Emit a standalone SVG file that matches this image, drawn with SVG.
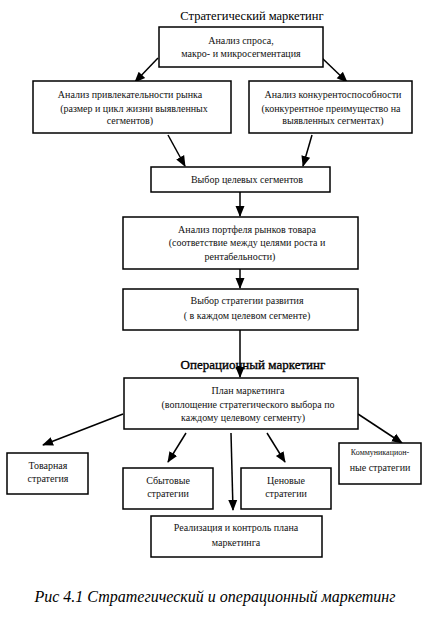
<svg xmlns="http://www.w3.org/2000/svg" width="434" height="619" viewBox="0 0 434 619">
<style>
.b{fill:#fff;stroke:#000;stroke-width:1.5}
.t{font-family:"Times New Roman","Liberation Serif","DejaVu Serif",serif;font-size:10px;fill:#111;text-anchor:middle}
.h{font-family:"Times New Roman","Liberation Serif","DejaVu Serif",serif;font-size:12.5px;fill:#000;text-anchor:middle}
.c{font-family:"Times New Roman","Liberation Serif","DejaVu Serif",serif;font-size:16px;font-style:italic;fill:#000;text-anchor:middle}
.l{stroke:#000;stroke-width:1.5;fill:none;marker-end:url(#a)}
</style>
<defs>
<marker id="a" markerWidth="11" markerHeight="11" refX="10" refY="5.5" orient="auto" markerUnits="userSpaceOnUse">
<path d="M0,1 L11,5.5 L0,10 z" fill="#000"/>
</marker>
</defs>
<rect width="434" height="619" fill="#fff"/>
<text class="h" x="252" y="20">Стратегический маркетинг</text>
<text class="h" x="253" y="369" style="font-size:13px;stroke:#000;stroke-width:0.35">Операционный маркетинг</text>
<g id="connectors">
<line class="l" x1="158" y1="58" x2="135" y2="82"/>
<line class="l" x1="322" y1="58" x2="347" y2="82"/>
<line class="l" x1="168" y1="135" x2="185" y2="166"/>
<line class="l" x1="312" y1="135" x2="303" y2="166"/>
<line class="l" x1="240" y1="192" x2="240" y2="216"/>
<line class="l" x1="240" y1="269" x2="240" y2="288"/>
<line class="l" x1="240" y1="330" x2="240" y2="377"/>
<line class="l" x1="123" y1="414" x2="43" y2="445"/>
<line class="l" x1="186" y1="433" x2="168" y2="462"/>
<line class="l" x1="231" y1="433" x2="233" y2="510"/>
<line class="l" x1="267" y1="433" x2="285" y2="462"/>
<line class="l" x1="358" y1="414" x2="402" y2="443"/>
</g>
<g id="n1">
<rect class="b" x="159" y="27" width="164" height="40"/>
<text class="t" x="241" y="44">Анализ спроса,</text>
<text class="t" x="241" y="57">макро- и микросегментация</text>
</g>
<g id="n2">
<rect class="b" x="33" y="81" width="198" height="52"/>
<text class="t" x="130" y="98">Анализ привлекательности рынка</text>
<text class="t" x="134" y="112">(размер и цикл жизни выявленных</text>
<text class="t" x="130" y="124">сегментов)</text>
</g>
<g id="n3">
<rect class="b" x="249" y="81" width="163" height="52"/>
<text class="t" x="333" y="98">Анализ конкурентоспособности</text>
<text class="t" x="331" y="112">(конкурентное преимущество на</text>
<text class="t" x="333" y="124">выявленных сегментах)</text>
</g>
<g id="n4">
<rect class="b" x="151" y="167" width="179" height="25"/>
<text class="t" x="247" y="183">Выбор целевых сегментов</text>
</g>
<g id="n5">
<rect class="b" x="123" y="217" width="235" height="52"/>
<text class="t" x="247" y="233">Анализ портфеля рынков товара</text>
<text class="t" x="247" y="246">(соответствие между целями роста и</text>
<text class="t" x="240" y="260">рентабельности)</text>
</g>
<g id="n6">
<rect class="b" x="123" y="289" width="235" height="41"/>
<text class="t" x="247" y="304">Выбор стратегии развития</text>
<text class="t" x="247" y="319">( в каждом целевом сегменте)</text>
</g>
<g id="n7">
<rect class="b" x="124" y="378" width="234" height="51"/>
<text class="t" x="248" y="394">План маркетинга</text>
<text class="t" x="248" y="408">(воплощение стратегического выбора по</text>
<text class="t" x="243" y="421">каждому целевому сегменту)</text>
</g>
<g id="n8">
<rect class="b" x="7" y="453" width="81" height="41"/>
<text class="t" x="48" y="469">Товарная</text>
<text class="t" x="48" y="482">стратегия</text>
</g>
<g id="n9">
<rect class="b" x="123" y="468" width="90" height="41"/>
<text class="t" x="168" y="484">Сбытовые</text>
<text class="t" x="168" y="497">стратегии</text>
</g>
<g id="n10">
<rect class="b" x="241" y="468" width="90" height="41"/>
<text class="t" x="286" y="484">Ценовые</text>
<text class="t" x="286" y="497">стратегии</text>
</g>
<g id="n11">
<rect class="b" x="339" y="443" width="82" height="41"/>
<text class="t" x="380" y="455" style="font-size:8px">Коммуникацион-</text>
<text class="t" x="380" y="471">ные стратегии</text>
</g>
<g id="n12">
<rect class="b" x="151" y="516" width="171" height="41"/>
<text class="t" x="236" y="531">Реализация и контроль плана</text>
<text class="t" x="236" y="546">маркетинга</text>
</g>
<text class="c" x="215" y="602">Рис 4.1 Стратегический и операционный маркетинг</text>
</svg>
